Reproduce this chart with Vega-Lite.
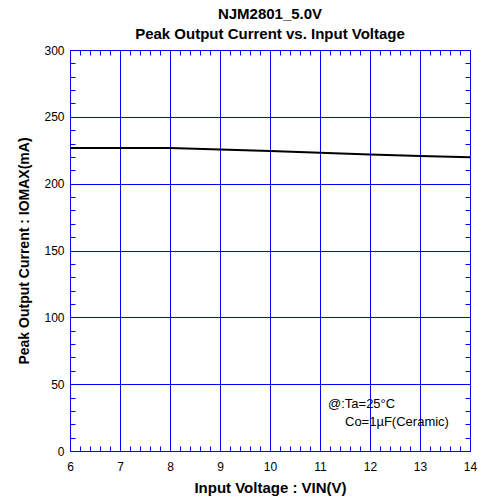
{
  "$schema": "https://vega.github.io/schema/vega-lite/v6.json",
  "width": 400,
  "height": 401,
  "autosize": {"type": "none"},
  "padding": {"left": 70, "top": 50, "right": 14, "bottom": 49},
  "background": "white",
  "config": {
    "font": "Liberation Sans",
    "view": {"stroke": null},
    "axis": {
      "domainColor": "#0000ff",
      "gridColor": "#0000ff",
      "gridOpacity": 1,
      "labelColor": "black",
      "labelFontSize": 12,
      "titleFontSize": 15,
      "titleFontWeight": "bold",
      "titleColor": "black"
    }
  },
  "title": {
    "text": ["NJM2801_5.0V", "Peak Output Current vs. Input Voltage"],
    "font": "Liberation Sans",
    "fontSize": 15,
    "fontWeight": "bold",
    "color": "black",
    "lineHeight": 20,
    "offset": 2,
    "anchor": "middle"
  },
  "datasets": {
    "curve": [
      {"V": 6, "I": 226.7},
      {"V": 7, "I": 226.7},
      {"V": 8, "I": 226.6},
      {"V": 9, "I": 225.6},
      {"V": 10, "I": 224.4},
      {"V": 11, "I": 223.1},
      {"V": 12, "I": 221.9},
      {"V": 13, "I": 220.7},
      {"V": 14, "I": 219.7}
    ],
    "notes": [
      {"V": 11.16, "I": 35, "t": "@:Ta=25°C"},
      {"V": 11.5, "I": 21.5, "t": "Co=1µF(Ceramic)"}
    ]
  },
  "resolve": {"axis": {"x": "independent", "y": "independent"}},
  "layer": [
    {
      "data": {"name": "curve"},
      "mark": {"type": "line", "color": "black", "strokeWidth": 2},
      "encoding": {
        "x": {
          "field": "V", "type": "quantitative",
          "scale": {"domain": [6, 14], "nice": false, "zero": false},
          "axis": {
            "orient": "bottom",
            "title": "Input Voltage : VIN(V)",
            "titlePadding": 8,
            "values": [6,7,8,9,10,11,12,13,14],
            "format": "d",
            "grid": true,
            "gridColor": "#0000ff",
            "tickColor": "white",
            "tickSize": 2,
            "labelPadding": 8,
            "labelFlush": false
          }
        },
        "y": {
          "field": "I", "type": "quantitative",
          "scale": {"domain": [0, 300], "nice": false},
          "axis": {
            "orient": "left",
            "title": "Peak Output Current : IOMAX(mA)",
            "titleFontSize": 14,
            "titlePadding": 12,
            "values": [0,50,100,150,200,250,300],
            "format": "d",
            "grid": true,
            "gridColor": "#0000ff",
            "tickColor": "white",
            "tickSize": 2,
            "labelPadding": 4,
            "labelFlush": false
          }
        }
      }
    },
    {
      "data": {"name": "curve"},
      "mark": {"type": "line", "color": "black", "opacity": 0},
      "encoding": {
        "x": {
          "field": "V", "type": "quantitative",
          "axis": {"orient": "top", "offset": -401, "title": null, "labels": false, "grid": false, "tickColor": "#0000ff", "tickSize": 5, "tickWidth": 1, "tickCount": 40}
        },
        "y": {
          "field": "I", "type": "quantitative",
          "axis": {"orient": "right", "offset": -400, "title": null, "labels": false, "grid": false, "tickColor": "#0000ff", "tickSize": 5, "tickWidth": 1, "tickCount": 30}
        }
      }
    },
    {
      "data": {"name": "notes"},
      "mark": {"type": "text", "align": "left", "baseline": "middle", "fontSize": 13, "font": "Liberation Sans", "color": "black"},
      "encoding": {
        "x": {
          "field": "V", "type": "quantitative",
          "axis": {"orient": "bottom", "offset": -401, "title": null, "labels": false, "grid": false, "tickColor": "#0000ff", "tickSize": 5, "tickWidth": 1, "tickCount": 40}
        },
        "y": {
          "field": "I", "type": "quantitative",
          "axis": {"orient": "left", "offset": -400, "title": null, "labels": false, "grid": false, "tickColor": "#0000ff", "tickSize": 5, "tickWidth": 1, "tickCount": 30}
        },
        "text": {"field": "t"}
      }
    }
  ]
}
